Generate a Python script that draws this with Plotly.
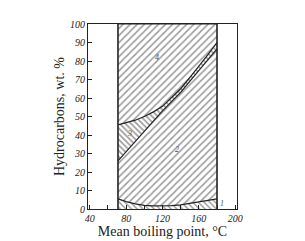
import plotly.graph_objects as go

# Data
boiling_pt = [71, 80, 90, 100, 110, 120, 130, 140, 150, 160, 170, 180]
top_region1 = [5.5, 4.0, 2.8, 2.0, 1.7, 1.6, 1.8, 2.2, 3.0, 4.0, 5.0, 5.5]
top_region2 = [26, 31, 37, 42, 47.5, 53.0, 58.0, 63.0, 69.0, 75.0, 81.0, 86.5]
top_region3 = [45.5, 46.5, 48, 50, 52.5, 55.5, 60.0, 65.0, 71.0, 77.0, 83.5, 90.0]
total = [100] * len(boiling_pt)
zero = [0] * len(boiling_pt)

x_ticks = [40, 60, 80, 100, 120, 140, 160, 180, 200]
x_ticktext = ["40", "", "80", "", "120", "", "160", "", "200"]
y_ticks = [0, 10, 20, 30, 40, 50, 60, 70, 80, 90, 100]

region_labels = ["1", "2", "3", "4"]
label_x = [186, 136, 84, 114]
label_y = [3, 32, 41, 82]

ink = "#222222"
serif = "Liberation Serif, DejaVu Serif, serif"

fig = go.Figure()
fig.add_trace(go.Scatter(x=boiling_pt, y=zero, mode="lines",
                         line=dict(width=0), showlegend=False, hoverinfo="skip"))
layers = [(top_region1, "\\", 4, 0.35), (top_region2, "/", 5, 0.3),
          (top_region3, "\\", 4, 0.4), (total, "/", 5, 0.3)]
for ys, shape, size, sol in layers:
    fig.add_trace(go.Scatter(
        x=boiling_pt, y=ys, mode="lines", fill="tonexty",
        fillcolor="white",
        fillpattern=dict(shape=shape, size=size, solidity=sol,
                         fgcolor="#333333", bgcolor="white", fillmode="overlay"),
        line=dict(color=ink, width=1.2), showlegend=False, hoverinfo="skip"))

# vertical boundaries of the hatched block
for xb in (boiling_pt[0], boiling_pt[-1]):
    fig.add_trace(go.Scatter(x=[xb, xb], y=[0, 100], mode="lines",
                             line=dict(color=ink, width=1.6),
                             showlegend=False, hoverinfo="skip"))

for t, lx, ly in zip(region_labels, label_x, label_y):
    fig.add_annotation(x=lx, y=ly, text=t, showarrow=False,
                       font=dict(family=serif, size=8, color="#555", style="italic"))

fig.update_layout(
    template="none",
    width=305, height=241,
    margin=dict(l=88, r=68, t=24, b=32),
    paper_bgcolor="white", plot_bgcolor="white",
    font=dict(family=serif, color=ink),
    xaxis=dict(range=[38, 202], tickvals=x_ticks, ticktext=x_ticktext,
               automargin=False,
               ticks="inside", ticklen=4, tickcolor=ink,
               showline=True, linecolor=ink, linewidth=1, mirror=True,
               showgrid=False, zeroline=False,
               tickfont=dict(family=serif, size=10, color=ink, style="italic"),
               title=dict(text="Mean boiling point, °C", standoff=3,
                          font=dict(family=serif, size=14, color=ink))),
    yaxis=dict(range=[0, 100], tickvals=y_ticks,
               automargin=False,
               ticks="inside", ticklen=4, tickcolor=ink,
               showline=True, linecolor=ink, linewidth=1, mirror=True,
               showgrid=False, zeroline=False,
               tickfont=dict(family=serif, size=10, color=ink, style="italic"),
               title=dict(text="Hydrocarbons, wt. %", standoff=2,
                          font=dict(family=serif, size=14, color=ink))),
)

fig.write_html("out.html")
